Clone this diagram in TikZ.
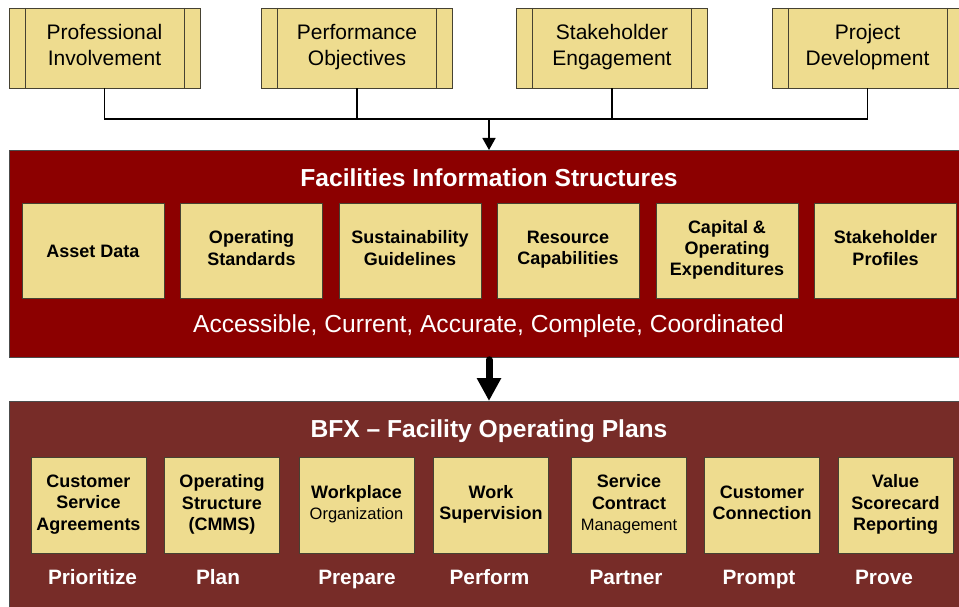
\documentclass[tikz,border=0pt]{standalone}
\usepackage{fontspec}
\setmainfont{Liberation Sans}
\usetikzlibrary{arrows.meta}
\definecolor{tan}{RGB}{238,220,143}
\definecolor{fisred}{RGB}{140,0,0}
\definecolor{bfxbrown}{RGB}{119,44,40}
\definecolor{boxline}{RGB}{70,66,50}
\newcommand\subfnt{\mdseries\fontsize{16.5}{21.3}\selectfont}
\newcommand\botprop[1]{\rule[-#1]{0pt}{#1}}
\tikzset{
  topbox/.style={draw=boxline, line width=0.9pt, fill=tan, minimum width=191, minimum height=80, inner sep=0pt, align=center, font=\fontsize{21}{26}\selectfont,
    execute at begin node=\rule{0pt}{20pt}, execute at end node=\botprop{7pt},
    path picture={\draw[boxline, line width=0.9pt] ([xshift=16]path picture bounding box.north west) -- ([xshift=16]path picture bounding box.south west);
                  \draw[boxline, line width=0.9pt] ([xshift=-16]path picture bounding box.north east) -- ([xshift=-16]path picture bounding box.south east);}},
  bigpanel/.style={draw=black!70, line width=0.8pt, anchor=north west, inner sep=0pt},
  innerbox/.style={draw=boxline, line width=0.9pt, fill=tan, inner sep=0pt, align=center, font=\bfseries\fontsize{18}{21.3}\selectfont,
    execute at begin node=\rule{0pt}{18pt}, execute at end node=\botprop{5pt}},
  fisbox/.style={innerbox, minimum width=142, minimum height=95},
  bfxbox/.style={innerbox, minimum width=115, minimum height=96},
  titletext/.style={text=white, font=\bfseries\fontsize{24.6}{28}\selectfont},
  subtext/.style={text=white, font=\fontsize{24.6}{28}\selectfont},
  steplabel/.style={text=white, anchor=base, font=\bfseries\fontsize{20.8}{24}\selectfont},
  conn/.style={line width=1.6pt, black},
}
\begin{document}
\begin{tikzpicture}[x=1pt,y=-1pt]
\useasboundingbox (0,0) rectangle (959,607);
\fill[white] (0,0) rectangle (959,607);
% top boxes
\node[topbox] (p1) at (104.5,48) {Professional\\Involvement};
\node[topbox] (p2) at (357,48) {Performance\\Objectives};
\node[topbox] (p3) at (612,48) {Stakeholder\\Engagement};
\node[topbox] (p4) at (867.5,48) {Project\\Development};
% panels
\node[bigpanel, fill=fisred, minimum width=960, minimum height=207] (fis) at (9,150) {};
\node[bigpanel, fill=bfxbrown, minimum width=960, minimum height=220] (bfx) at (9,401) {};
% connectors
\coordinate (j) at (489,119);
\draw[conn] (p1.south) |- (p4.south |- j) -- (p4.south);
\draw[conn] (p2.south) -- (p2.south |- j);
\draw[conn] (p3.south) -- (p3.south |- j);
\draw[conn, -{Triangle[width=13pt,length=12pt]}] (j) -- (j |- fis.north);
\draw[line width=7pt, line cap=round, -{Triangle[width=23pt,length=23pt]}] ([yshift=-2pt]j |- fis.south) -- (j |- bfx.north);
% FIS contents
\node[titletext] (fistitle) at (489,178) {Facilities Information Structures};
\node[fisbox] (f1) at (93,250.5) {Asset Data};
\node[fisbox] (f2) at (251.5,250.5) {Operating\\Standards};
\node[fisbox] (f3) at (410,250.5) {Sustainability\\Guidelines};
\node[fisbox] (f4) at (568,250.5) {Resource\\Capabilities};
\node[fisbox] (f5) at (727,250.5) {Capital \&\\Operating\\Expenditures};
\node[fisbox] (f6) at (885.5,250.5) {Stakeholder\\Profiles};
\node[subtext] (fissub) at (488.5,326) {Accessible, Current, Accurate, Complete, Coordinated};
% BFX contents
\node[titletext] (bfxtitle) at (489,431) {BFX -- Facility Operating Plans};
\node[bfxbox] (b1) at (88.5,505) {Customer\\Service\\Agreements};
\node[bfxbox] (b2) at (222,505) {Operating\\Structure\\(CMMS)};
\node[bfxbox] (b3) at (356.5,505) {Workplace\\{\subfnt Organization}};
\node[bfxbox] (b4) at (491,505) {Work\\Supervision};
\node[bfxbox] (b5) at (629,505) {Service\\Contract\\{\subfnt Management}};
\node[bfxbox] (b6) at (762,505) {Customer\\Connection};
\node[bfxbox] (b7) at (895.5,505) {Value\\Scorecard\\Reporting};
\node[steplabel] (s1) at (92.5,584) {Prioritize};
\node[steplabel] (s2) at (218,584) {Plan};
\node[steplabel] (s3) at (357,584) {Prepare};
\node[steplabel] (s4) at (489.5,584) {Perform};
\node[steplabel] (s5) at (626,584) {Partner};
\node[steplabel] (s6) at (759,584) {Prompt};
\node[steplabel] (s7) at (884,584) {Prove};
\end{tikzpicture}
\end{document}
